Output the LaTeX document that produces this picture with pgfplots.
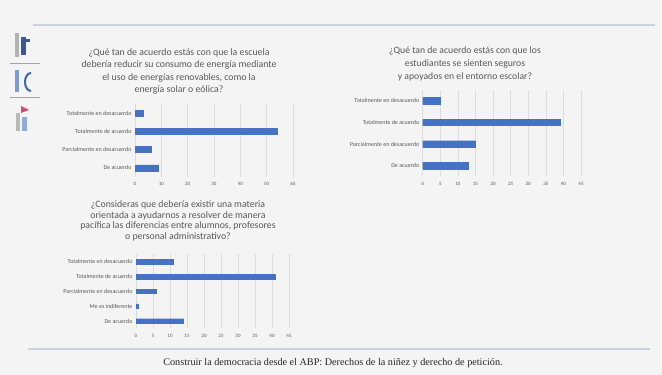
\documentclass[border=0pt]{standalone}
\usepackage{pgfplots}
\pgfplotsset{compat=1.18}
\usepackage{fontspec}
\setmainfont{Carlito}
\newfontfamily\footfont{Liberation Serif}
\definecolor{bg}{HTML}{F4F4F4}
\definecolor{barblue}{HTML}{4472C4}
\definecolor{txt}{HTML}{595959}
\definecolor{rule}{HTML}{C9D3DE}
\definecolor{gridc}{HTML}{DCDCDC}
\pgfplotsset{
  surveybar/.style={
    xbar, scale only axis, anchor=south west,
    axis line style={draw=none},
    major tick length=0pt,
    xmajorgrids, grid style={gridc, line width=0.5pt},
    ytick=data,
    xmin=0,
    ticklabel style={font=\fontsize{5}{6}\selectfont, text=txt},
    xticklabel style={yshift=-2pt},
    yticklabel style={font=\fontsize{6}{7}\selectfont, text=txt},
    /pgf/number format/assume math mode=true,
    bar shift=0pt,
  }
}
\begin{document}
\begin{tikzpicture}
\fill[bg] (0pt,0pt) rectangle (662pt,375pt);
\path[use as bounding box] (0pt,0pt) rectangle (662pt,375pt);
% header / footer rules
\draw[rule, line width=2pt] (33pt,350pt) -- (655pt,350pt);
\draw[rule, line width=2pt] (28pt,26pt) -- (650pt,26pt);
\node[font=\footfont\fontsize{10.2}{12}\selectfont, text=black!85] at (333pt,12pt) {Construir la democracia desde el ABP: Derechos de la niñez y derecho de petición.};
% left logos (decoration)
\draw[gray!70, line width=0.6pt] (10pt,312pt) -- (40pt,312pt);
\draw[gray!70, line width=0.6pt] (10pt,278pt) -- (40pt,278pt);
\fill[barblue!80!black] (21pt,320pt) rectangle (26pt,338pt);
\fill[barblue!80!black] (24pt,333pt) rectangle (30pt,336pt);
\fill[gray!60] (15pt,318pt) rectangle (19pt,342pt);
\fill[barblue!70] (15pt,283pt) rectangle (19pt,305pt);
\draw[barblue!90!black, line width=2pt] (31pt,302pt) arc (90:270:6pt and 9pt);
\fill[purple!70] (21pt,262pt) -- (29pt,265pt) -- (21pt,269pt) -- cycle;
\fill[gray!55] (16pt,244pt) rectangle (20pt,262pt);
\fill[barblue!60] (22pt,244pt) rectangle (27pt,258pt);
% titles
\node[align=center, font=\fontsize{9.8}{12.4}\selectfont, text=txt] at (179pt,303.5pt) {¿Qué tan de acuerdo estás con que la escuela\\debería reducir su consumo de energía mediante\\el uso de energías renovables, como la\\energía solar o eólica?};
\node[align=center, font=\fontsize{9.7}{13}\selectfont, text=txt] at (465pt,311.5pt) {¿Qué tan de acuerdo estás con que los\\estudiantes se sienten seguros\\y apoyados en el entorno escolar?};
\node[align=center, font=\fontsize{9.8}{10.6}\selectfont, text=txt] at (178pt,154pt) {¿Consideras que debería existir una materia\\orientada a ayudarnos a resolver de manera\\pacífica las diferencias entre alumnos, profesores\\o personal administrativo?};
% chart 1
\begin{axis}[surveybar, at={(135pt,198pt)}, width=158pt, height=73pt,
  xmax=60, xtick={0,10,...,60}, ymin=-0.5, ymax=3.5, bar width=6pt,
  yticklabels={De acuerdo, Parcialmente en desacuerdo, Totalmente de acuerdo, Totalmente en desacuerdo}]
\addplot[fill=barblue, draw=barblue] coordinates {(9,0) (6,1) (54,2) (3,3)};
\end{axis}
% chart 2
\begin{axis}[surveybar, at={(422.7pt,198.5pt)}, width=158.3pt, height=86.7pt,
  xmax=45, xtick={0,5,...,45}, ymin=-0.5, ymax=3.5, bar width=6.5pt,
  yticklabels={De acuerdo, Parcialmente en desacuerdo, Totalmente de acuerdo, Totalmente en desacuerdo}]
\addplot[fill=barblue, draw=barblue] coordinates {(13,0) (15,1) (39,2) (5,3)};
\end{axis}
% chart 3
\begin{axis}[surveybar, at={(136pt,46.6pt)}, width=153pt, height=74pt,
  xmax=45, xtick={0,5,...,45}, ymin=-0.5, ymax=4.5, bar width=4.5pt,
  yticklabels={De acuerdo, Me es indiferente, Parcialmente en desacuerdo, Totalmente de acuerdo, Totalmente en desacuerdo}]
\addplot[fill=barblue, draw=barblue] coordinates {(14,0) (0.6,1) (6,2) (41,3) (11,4)};
\end{axis}
\end{tikzpicture}
\end{document}
